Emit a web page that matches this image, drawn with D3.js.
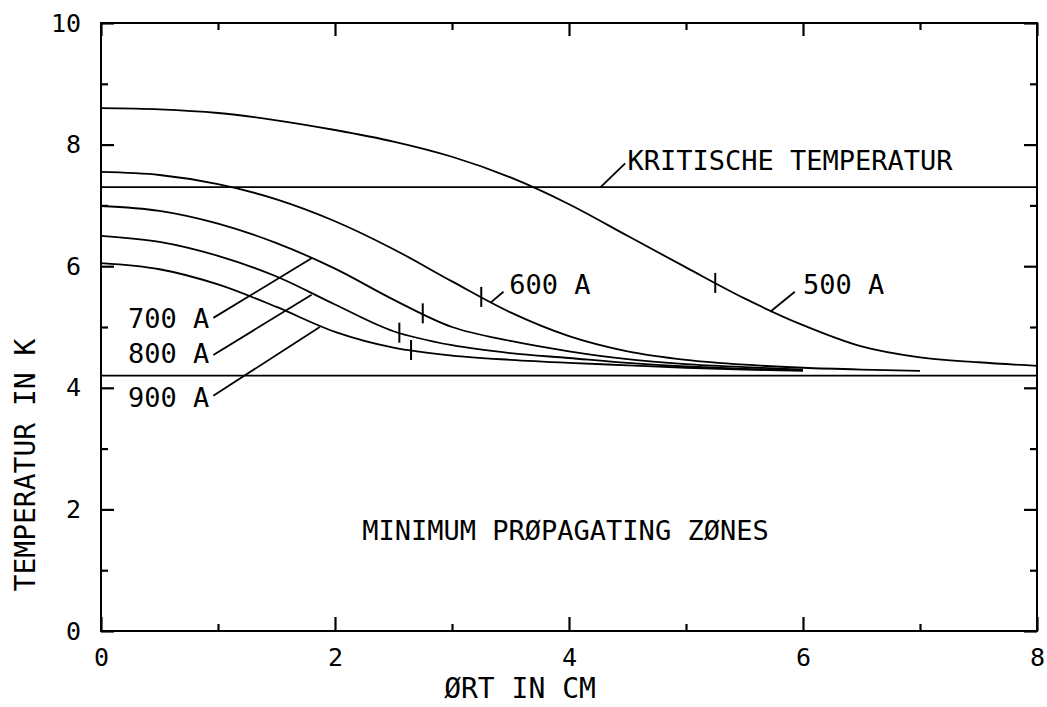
<!DOCTYPE html>
<html>
<head>
<meta charset="utf-8">
<script src="https://cdn.jsdelivr.net/npm/d3@7"></script>
<style>
  html, body { margin: 0; padding: 0; background: #fff; }
  svg text { font-family: "DejaVu Sans Mono", monospace; fill: #000; }
</style>
</head>
<body>
<svg id="chart" width="1047" height="707"></svg>
<script>
// ---------------- data ----------------
const xMajorTicks = [0, 2, 4, 6, 8];
const xMinorTicks = [1, 3, 5, 7];
const yMajorTicks = [0, 2, 4, 6, 8, 10];
const yMinorTicks = [1, 3, 5, 7, 9];

const xTitle = "ØRT IN CM";
const yTitle = "TEMPERATUR IN K";
const zoneLabel = "MINIMUM PRØPAGATING ZØNES";

const criticalTemp = 7.3;
const bathTemp = 4.2;
const criticalLabel = "KRITISCHE TEMPERATUR";

const x500 = [0, 0.5, 1, 1.5, 2, 2.5, 3, 3.5, 4, 4.5, 5, 5.5, 6, 6.5, 7, 7.5, 8];
const t500 = [8.60, 8.58, 8.52, 8.40, 8.24, 8.05, 7.80, 7.46, 7.02, 6.50, 5.98, 5.47, 5.03, 4.68, 4.50, 4.42, 4.36];

const x600 = [0, 0.5, 1, 1.5, 2, 2.5, 3, 3.5, 4, 4.5, 5, 5.5, 6, 6.5, 7];
const t600 = [7.55, 7.50, 7.35, 7.10, 6.74, 6.28, 5.75, 5.24, 4.85, 4.60, 4.46, 4.38, 4.33, 4.30, 4.28];

const x700 = [0, 0.5, 1, 1.5, 2, 2.5, 3, 3.5, 4, 4.5, 5, 5.5, 6];
const t700 = [6.99, 6.91, 6.70, 6.38, 5.96, 5.45, 5.00, 4.77, 4.60, 4.47, 4.39, 4.34, 4.30];

const x800 = [0, 0.5, 1, 1.5, 2, 2.5, 3, 3.5, 4, 4.5, 5, 5.5, 6];
const t800 = [6.50, 6.40, 6.17, 5.83, 5.37, 4.93, 4.70, 4.57, 4.49, 4.41, 4.35, 4.31, 4.29];

const x900 = [0, 0.5, 1, 1.5, 2, 2.5, 3, 3.5, 4, 4.5, 5, 5.5, 6];
const t900 = [6.05, 5.95, 5.70, 5.33, 4.92, 4.66, 4.53, 4.46, 4.41, 4.37, 4.33, 4.30, 4.28];

const seriesNames = ["500 A", "600 A", "700 A", "800 A", "900 A"];
const seriesX = [x500, x600, x700, x800, x900];
const seriesT = [t500, t600, t700, t800, t900];
// position of the small cross mark on each curve (cm)
const markX = [5.25, 3.25, 2.75, 2.55, 2.65];
// label anchor [x, T] and leader line end on the curve [x, T]
const labelPos = [[6.0, 5.7], [3.49, 5.7], [0.23, 5.15], [0.23, 4.57], [0.23, 3.85]];
const leaderFrom = [[5.93, 5.58], [3.44, 5.58], [0.96, 5.15], [0.96, 4.54], [0.96, 3.87]];
const leaderTo = [[5.72, 5.25], [3.33, 5.40], [1.80, 6.13], [1.80, 5.53], [1.87, 5.00]];
const critLeaderFrom = [4.27, 7.30];
const critLeaderTo = [4.48, 7.69];
const critLabelPos = [4.50, 7.75];
const zoneLabelPos = [3.97, 1.65];

// ---------------- drawing ----------------
const svg = d3.select("#chart");
const x = d3.scaleLinear().domain([0, 8]).range([101, 1037]);
const y = d3.scaleLinear().domain([0, 10]).range([631, 23]);

const g = svg.append("g");
const ink = "#000";

// frame
g.append("rect")
  .attr("x", x(0)).attr("y", y(10))
  .attr("width", x(8) - x(0)).attr("height", y(0) - y(10))
  .attr("fill", "none").attr("stroke", ink).attr("stroke-width", 2);

function styleAxis(sel) {
  sel.select(".domain").remove();
  sel.selectAll(".tick line").attr("stroke", ink).attr("stroke-width", 2.2);
  sel.selectAll(".tick text").attr("font-size", 25).attr("fill", ink)
     .attr("font-family", "DejaVu Sans Mono, monospace");
}

// bottom axis
g.append("g").attr("transform", `translate(0,${y(0)})`)
  .call(d3.axisBottom(x).tickValues(xMajorTicks).tickSizeInner(-14).tickSizeOuter(0).tickPadding(26).tickFormat(d3.format("d")))
  .call(styleAxis)
  .call(s => s.selectAll(".tick text").attr("dy", "0.35em").attr("y", 26));
g.append("g").attr("transform", `translate(0,${y(0)})`)
  .call(d3.axisBottom(x).tickValues(xMinorTicks).tickSizeInner(-7).tickSizeOuter(0).tickFormat(""))
  .call(styleAxis);
// top axis
g.append("g").attr("transform", `translate(0,${y(10)})`)
  .call(d3.axisTop(x).tickValues(xMajorTicks).tickSizeInner(-13).tickSizeOuter(0).tickFormat(""))
  .call(styleAxis);
g.append("g").attr("transform", `translate(0,${y(10)})`)
  .call(d3.axisTop(x).tickValues(xMinorTicks).tickSizeInner(-7).tickSizeOuter(0).tickFormat(""))
  .call(styleAxis);
// left axis
g.append("g").attr("transform", `translate(${x(0)},0)`)
  .call(d3.axisLeft(y).tickValues(yMajorTicks).tickSizeInner(-13).tickSizeOuter(0).tickPadding(20).tickFormat(d3.format("d")))
  .call(styleAxis)
  .call(s => s.selectAll(".tick text").attr("x", -20));
g.append("g").attr("transform", `translate(${x(0)},0)`)
  .call(d3.axisLeft(y).tickValues(yMinorTicks).tickSizeInner(-7).tickSizeOuter(0).tickFormat(""))
  .call(styleAxis);
// right axis
g.append("g").attr("transform", `translate(${x(8)},0)`)
  .call(d3.axisRight(y).tickValues(yMajorTicks).tickSizeInner(-13).tickSizeOuter(0).tickFormat(""))
  .call(styleAxis);
g.append("g").attr("transform", `translate(${x(8)},0)`)
  .call(d3.axisRight(y).tickValues(yMinorTicks).tickSizeInner(-7).tickSizeOuter(0).tickFormat(""))
  .call(styleAxis);

// horizontal reference lines
[criticalTemp, bathTemp].forEach(t => {
  g.append("line")
    .attr("x1", x(0)).attr("x2", x(8))
    .attr("y1", y(t)).attr("y2", y(t))
    .attr("stroke", ink).attr("stroke-width", 1.8);
});

// curves
const line = d3.line().x(d => x(d[0])).y(d => y(d[1])).curve(d3.curveCatmullRom.alpha(0.5));
function interp(xs, ts, v) {
  for (let i = 0; i < xs.length - 1; i++) {
    if (v >= xs[i] && v <= xs[i + 1]) {
      const f = (v - xs[i]) / (xs[i + 1] - xs[i]);
      return ts[i] + f * (ts[i + 1] - ts[i]);
    }
  }
  return ts[ts.length - 1];
}
seriesNames.forEach((name, i) => {
  const pts = seriesX[i].map((v, j) => [v, seriesT[i][j]]);
  g.append("path").datum(pts)
    .attr("d", line)
    .attr("fill", "none").attr("stroke", ink).attr("stroke-width", 1.8);
  // cross mark
  const mt = interp(seriesX[i], seriesT[i], markX[i]);
  g.append("line")
    .attr("x1", x(markX[i])).attr("x2", x(markX[i]))
    .attr("y1", y(mt) - 10).attr("y2", y(mt) + 10)
    .attr("stroke", ink).attr("stroke-width", 2);
  // leader
  g.append("line")
    .attr("x1", x(leaderFrom[i][0])).attr("y1", y(leaderFrom[i][1]))
    .attr("x2", x(leaderTo[i][0])).attr("y2", y(leaderTo[i][1]))
    .attr("stroke", ink).attr("stroke-width", 1.8);
  // label
  g.append("text")
    .attr("x", x(labelPos[i][0])).attr("y", y(labelPos[i][1]))
    .attr("dy", "0.36em")
    .attr("font-size", 27)
    .text(name);
});

// critical temperature label
g.append("line")
  .attr("x1", x(critLeaderFrom[0])).attr("y1", y(critLeaderFrom[1]))
  .attr("x2", x(critLeaderTo[0])).attr("y2", y(critLeaderTo[1]))
  .attr("stroke", ink).attr("stroke-width", 1.8);
g.append("text")
  .attr("x", x(critLabelPos[0])).attr("y", y(critLabelPos[1]))
  .attr("dy", "0.36em").attr("font-size", 27)
  .text(criticalLabel);

// zone label
g.append("text")
  .attr("x", x(zoneLabelPos[0])).attr("y", y(zoneLabelPos[1]))
  .attr("dy", "0.36em").attr("font-size", 27).attr("text-anchor", "middle")
  .text(zoneLabel);

// axis titles
svg.append("text")
  .attr("x", 520).attr("y", 688).attr("dy", "0.36em")
  .attr("font-size", 28).attr("text-anchor", "middle")
  .text(xTitle);
svg.append("text")
  .attr("transform", "translate(25,465) rotate(-90)")
  .attr("dy", "0.36em")
  .attr("font-size", 28).attr("text-anchor", "middle")
  .text(yTitle);
</script>
</body>
</html>
